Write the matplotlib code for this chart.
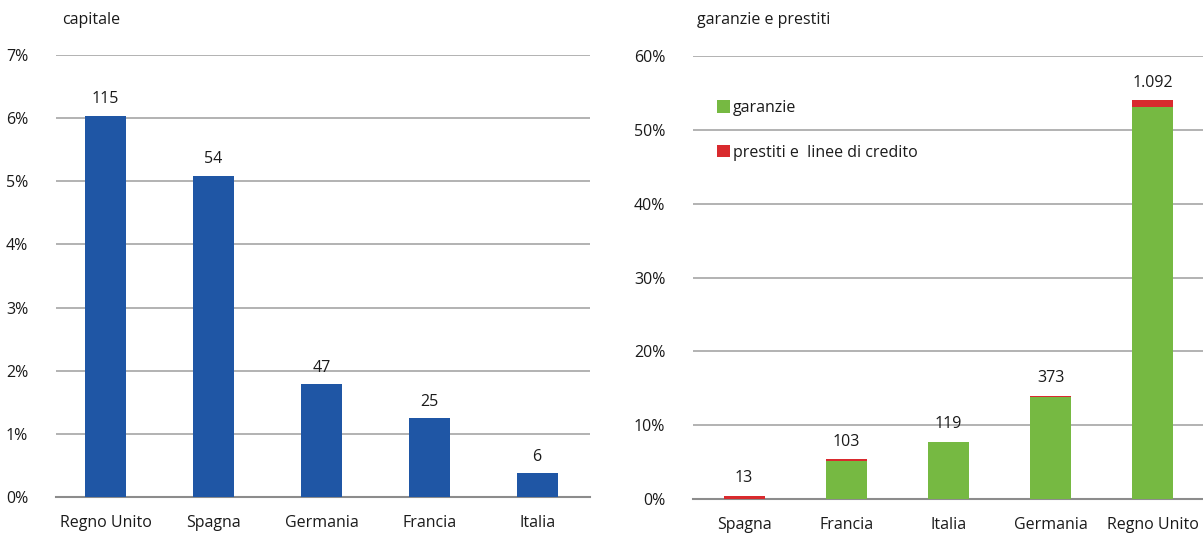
import matplotlib
matplotlib.use("Agg")
import matplotlib.pyplot as plt

plt.rcParams['font.family'] = ['Open Sans', 'DejaVu Sans']

# Left panel: capitale
cap_countries = ["Regno Unito", "Spagna", "Germania", "Francia", "Italia"]
cap_values = [6.04, 5.09, 1.79, 1.25, 0.38]
cap_labels = ["115", "54", "47", "25", "6"]
cap_yticks = [0, 1, 2, 3, 4, 5, 6, 7]

# Right panel: garanzie e prestiti
gar_countries = ["Spagna", "Francia", "Italia", "Germania", "Regno Unito"]
gar_garanzie = [0.05, 5.1, 7.7, 13.8, 53.1]
gar_prestiti = [0.35, 0.25, 0.0, 0.2, 0.9]
gar_labels = ["13", "103", "119", "373", "1.092"]
gar_yticks = [0, 10, 20, 30, 40, 50, 60]

BLUE = "#1f56a5"
GREEN = "#76b942"
RED = "#d92a2e"
GRID = "#a6a6a6"
TXT = "#1a1a1a"
FS = 11.5

fig = plt.figure(figsize=(12.03, 5.36), dpi=100)
W, H = 1203, 536

def px_axes(x0, y0, x1, y1):
    return fig.add_axes([x0 / W, 1 - y1 / H, (x1 - x0) / W, (y1 - y0) / H])

def style(ax):
    for s in ["top", "right", "left"]:
        ax.spines[s].set_visible(False)
    ax.spines["bottom"].set_color("#8c8c8c")
    ax.spines["bottom"].set_linewidth(1.5)
    ax.tick_params(axis="both", length=0, labelsize=FS, colors=TXT)
    ax.tick_params(axis="y", pad=20)
    ax.tick_params(axis="x", pad=13)
    ax.yaxis.grid(True, color=GRID, linewidth=1.2)
    ax.set_axisbelow(True)

# Left axes
ax1 = px_axes(56, 55, 590, 497)
style(ax1)
x1 = range(len(cap_countries))
ax1.bar(x1, cap_values, width=0.38, color=BLUE, zorder=3)
ax1.set_xlim(-0.46, 4.49)
ax1.set_ylim(0, 7)
ax1.set_yticks(cap_yticks)
ax1.set_yticklabels([f"{v}%" for v in cap_yticks])
ax1.set_xticks(list(x1))
ax1.set_xticklabels(cap_countries)
for xi, v, lab in zip(x1, cap_values, cap_labels):
    ax1.annotate(lab, (xi, v), xytext=(0, 6), textcoords="offset points",
                 ha="center", va="bottom", fontsize=FS, color=TXT)
fig.text(62 / W, 1 - 20 / H, "capitale", fontsize=FS, color=TXT, va="center", ha="left")

# Right axes
ax2 = px_axes(693, 56, 1204, 499)
style(ax2)
x2 = range(len(gar_countries))
ax2.bar(x2, gar_garanzie, width=0.4, color=GREEN, zorder=3, label="garanzie")
ax2.bar(x2, gar_prestiti, width=0.4, bottom=gar_garanzie, color=RED, zorder=3,
        label="prestiti e  linee di credito")
ax2.set_xlim(-0.5, 4.5)
ax2.set_ylim(0, 60)
ax2.set_yticks(gar_yticks)
ax2.set_yticklabels([f"{v}%" for v in gar_yticks])
ax2.set_xticks(list(x2))
ax2.set_xticklabels(gar_countries)
for xi, g, p, lab in zip(x2, gar_garanzie, gar_prestiti, gar_labels):
    ax2.annotate(lab, (xi, g + p), xytext=(0, 7), textcoords="offset points",
                 ha="center", va="bottom", fontsize=FS, color=TXT)
fig.text(697 / W, 1 - 20 / H, "garanzie e prestiti", fontsize=FS, color=TXT, va="center", ha="left")

leg = ax2.legend(loc="upper left", bbox_to_anchor=(0.035, 0.915), frameon=False,
                 fontsize=FS, handlelength=0.8, handleheight=0.8, handletextpad=0.2,
                 labelspacing=1.8, borderaxespad=0)
for t in leg.get_texts():
    t.set_color(TXT)

fig.savefig("out.png", dpi=100, facecolor="white")
